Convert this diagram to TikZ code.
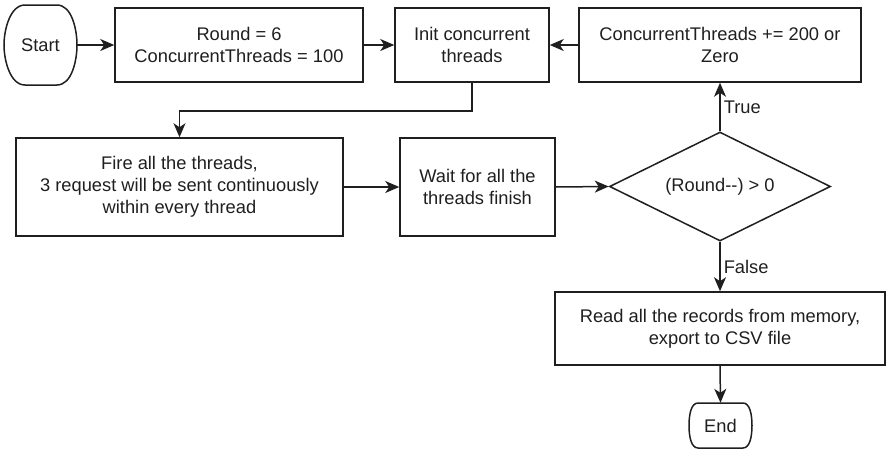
\documentclass[tikz,border=0pt]{standalone}
\usepackage{fontspec}
\setmainfont{Liberation Sans}
\usetikzlibrary{shapes.geometric,arrows.meta,calc}
\begin{document}
\begin{tikzpicture}[x=1pt,y=-1pt,
  every node/.style={font=\fontsize{18.3}{22}\selectfont, text=black!88, align=center, inner sep=0pt},
  box/.style={draw=black!88, line width=1.5pt, minimum width=#1},
  arr/.style={draw=black!88, line width=1.5pt, -{Stealth[length=14pt,width=12pt,inset=4pt]}},
  lbl/.style={anchor=west}
]
\useasboundingbox (0,0) rectangle (887,450);
% Start terminal
\node (start) [minimum width=73pt, minimum height=80pt] at (40.5,45) {Start};
\draw[black!88, line width=1.5pt] (25,5) -- (57,5) .. controls (72,5) and (77,30) .. (77,45) .. controls (77,60) and (72,85) .. (57,85) -- (25,85) .. controls (10,85) and (4,60) .. (4,45) .. controls (4,30) and (10,5) .. (25,5) -- cycle;
% boxes
\node (b1) [box=248pt, minimum height=74pt] at (239,45) {Round = 6\\ConcurrentThreads = 100};
\node (init) [box=154pt, minimum height=74pt] at (472,45) {Init concurrent\\threads};
\node (b3) [box=282pt, minimum height=74pt] at (720,45) {ConcurrentThreads += 200 or\\Zero};
\node (fire) [box=327pt, minimum height=98pt] at (179.5,187) {Fire all the threads,\\3 request will be sent continuously\\within every thread};
\node (wait) [box=155pt, minimum height=98pt] at (477.5,187) {Wait for all the\\threads finish};
\node (dia) [diamond, draw=black!88, line width=1.5pt, minimum width=221pt, minimum height=109pt, shape aspect=2] at (720,186.5) {(Round-{}-) > 0};
\node (read) [box=330pt, minimum height=73pt] at (720,328.5) {Read all the records from memory,\\export to CSV file};
% End terminal
\node (end) [minimum width=63pt, minimum height=45pt] at (720.5,425.5) {End};
\draw[black!88, line width=1.5pt] (698,403) -- (743,403) .. controls (750,403) and (752,415) .. (752,425.5) .. controls (752,436) and (750,448) .. (743,448) -- (698,448) .. controls (691,448) and (689,436) .. (689,425.5) .. controls (689,415) and (691,403) .. (698,403) -- cycle;
% connectors
\coordinate (k) at (179.5,111);
\draw[arr] (start.east) -- (b1.west);
\draw[arr] (b1.east) -- (init.west);
\draw[arr] (b3.west) -- (init.east);
\draw[arr] (init.south) |- (k) -- (fire.north);
\draw[arr] (fire.east) -- (wait.west);
\draw[arr] (wait.east) -- (dia.west);
\draw[arr] (dia.north) -- node[lbl, xshift=3pt] {True} (b3.south);
\draw[arr] (dia.south) -- node[lbl, xshift=3pt] {False} (read.north);
\draw[arr] (read.south) -- (end.north);
\end{tikzpicture}
\end{document}
